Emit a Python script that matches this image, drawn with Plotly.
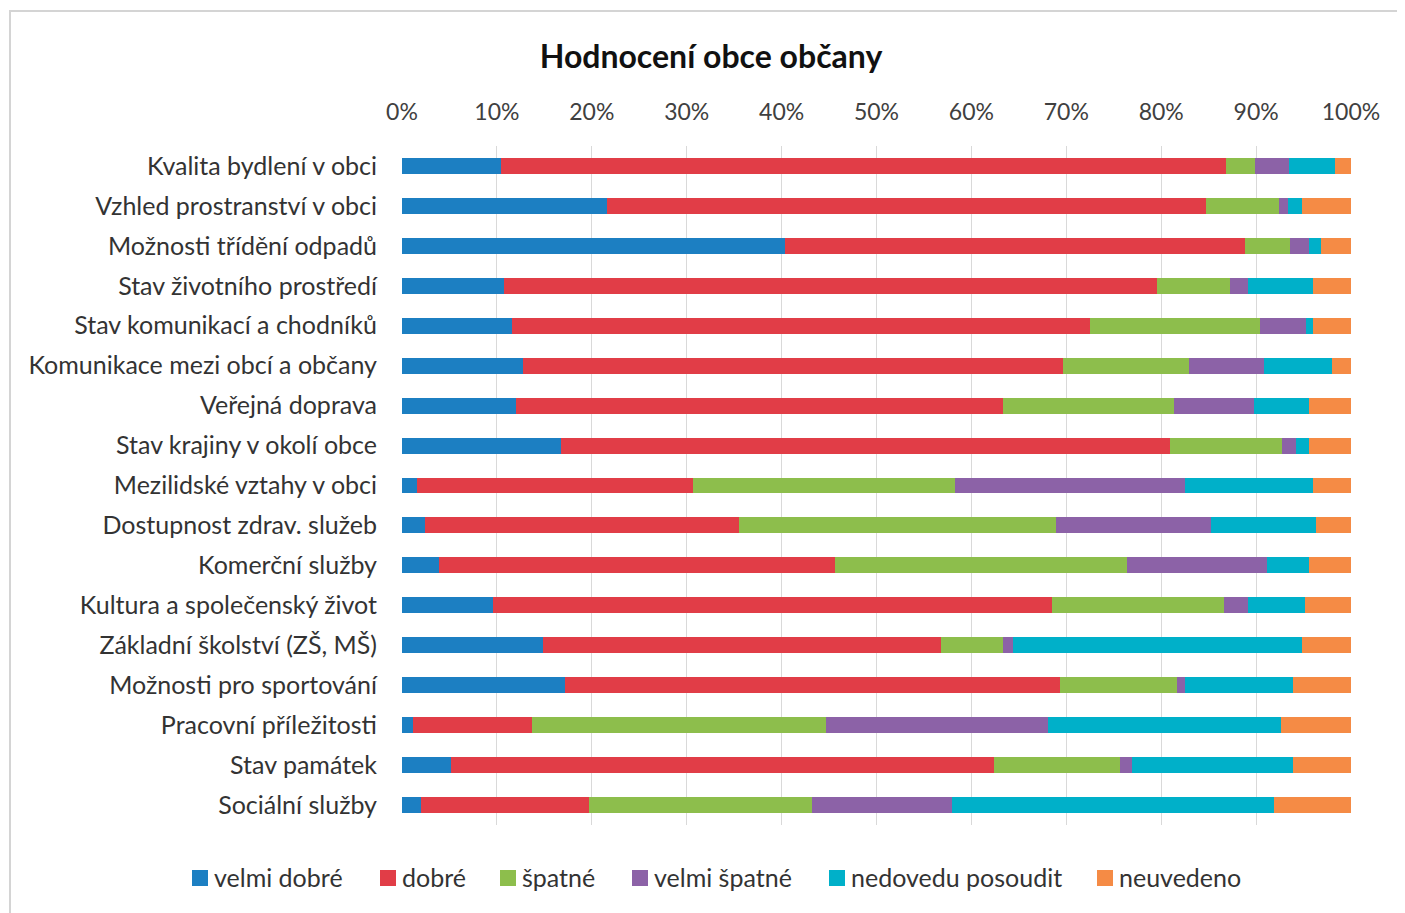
import plotly.graph_objects as go

categories = [
    "Kvalita bydlení v obci",
    "Vzhled prostranství v obci",
    "Možnosti třídění odpadů",
    "Stav životního prostředí",
    "Stav komunikací a chodníků",
    "Komunikace mezi obcí a občany",
    "Veřejná doprava",
    "Stav krajiny v okolí obce",
    "Mezilidské vztahy v obci",
    "Dostupnost zdrav. služeb",
    "Komerční služby",
    "Kultura a společenský život",
    "Základní školství (ZŠ, MŠ)",
    "Možnosti pro sportování",
    "Pracovní příležitosti",
    "Stav památek",
    "Sociální služby",
]

velmi_dobre = [10.4, 21.6, 40.4, 10.8, 11.6, 12.8, 12.0, 16.8, 1.6, 2.4, 3.9, 9.6, 14.9, 17.2, 1.2, 5.2, 2.0]
dobre = [76.4, 63.1, 48.4, 68.8, 60.9, 56.8, 51.3, 64.1, 29.1, 33.1, 41.7, 58.9, 41.9, 52.1, 12.5, 57.2, 17.7]
spatne = [3.1, 7.7, 4.8, 7.7, 17.9, 13.3, 18.1, 11.8, 27.6, 33.4, 30.8, 18.1, 6.5, 12.4, 31.0, 13.3, 23.5]
velmi_spatne = [3.6, 1.0, 2.0, 1.8, 4.9, 7.9, 8.4, 1.5, 24.2, 16.3, 14.7, 2.5, 1.1, 0.8, 23.4, 1.2, 14.8]
nedovedu = [4.8, 1.4, 1.2, 6.9, 0.7, 7.2, 5.8, 1.4, 13.5, 11.1, 4.5, 6.1, 30.4, 11.4, 24.5, 17.0, 33.9]
neuvedeno = [1.7, 5.2, 3.2, 4.0, 4.0, 2.0, 4.4, 4.4, 4.0, 3.7, 4.4, 4.8, 5.2, 6.1, 7.4, 6.1, 8.1]

series_names = ["velmi dobré", "dobré", "špatné", "velmi špatné", "nedovedu posoudit", "neuvedeno"]
series_values = [velmi_dobre, dobre, spatne, velmi_spatne, nedovedu, neuvedeno]
colors = ["#1C7FC2", "#E13D47", "#8DBE4C", "#8C62A7", "#00B0C9", "#F58B45"]

x_ticks = [0, 10, 20, 30, 40, 50, 60, 70, 80, 90, 100]

# page has an 8px body margin; figure is sized/positioned to compensate
OFF = 8
W, H = 1405 - OFF, 913 - OFF
ML, MR, MT, MB = 402 - OFF, 54, 146 - OFF, 88

fig = go.Figure()
for name, vals, col in zip(series_names, series_values, colors):
    fig.add_trace(go.Bar(
        y=categories, x=vals, name=name, orientation="h",
        marker=dict(color=col, line=dict(width=0)),
        width=0.4, showlegend=False,
    ))

font_family = "Lato, Open Sans, sans-serif"
pw = W - ML - MR
ph = H - MT - MB


def px_x(p):
    return (p - OFF - ML) / pw


def px_y(p):
    return 1 - (p - OFF - MT) / ph


# manual legend (squares + text), positioned in page pixels
legend_square_x = [192, 380, 500, 632, 829, 1097]
legend_y = 878
shapes = [dict(
    type="rect", xref="paper", yref="paper", layer="below",
    x0=px_x(10), x1=px_x(1430), y0=px_y(940), y1=px_y(11),
    fillcolor="white", line=dict(color="#d4d4d4", width=2),
)]
annotations = []
for sx, name, col in zip(legend_square_x, series_names, colors):
    shapes.append(dict(
        type="rect", xref="paper", yref="paper",
        x0=px_x(sx), x1=px_x(sx + 16), y0=px_y(legend_y + 8), y1=px_y(legend_y - 8),
        fillcolor=col, line=dict(width=0),
    ))
    annotations.append(dict(
        text=name, xref="paper", yref="paper", showarrow=False,
        x=px_x(sx + 20), xanchor="left", y=px_y(legend_y - 1), yanchor="middle",
        font=dict(family=font_family, size=25, color="#333333"),
    ))

fig.update_layout(
    width=W, height=H,
    barmode="stack",
    margin=dict(l=ML, r=MR, t=MT, b=MB, autoexpand=False),
    paper_bgcolor="white",
    plot_bgcolor="white",
    font=dict(family=font_family, size=25, color="#3a3a3a"),
    showlegend=False,
    title=dict(
        text="<b>Hodnocení obce občany</b>",
        x=(711 - OFF) / W, xref="container", xanchor="center",
        y=1 - (57 - OFF) / H, yref="container", yanchor="middle",
        font=dict(family=font_family, size=32, color="#111111"),
    ),
    xaxis=dict(
        side="top", range=[0, 100], tickvals=x_ticks,
        ticktext=[f"{v}%" for v in x_ticks],
        showgrid=True, gridcolor="#d9d9d9", gridwidth=1,
        zeroline=False, showline=False, ticks="",
        ticklabelstandoff=20,
        tickfont=dict(size=23, color="#404040"),
    ),
    yaxis=dict(
        autorange="reversed", showgrid=False, zeroline=False, showline=False,
        ticks="", ticklabelstandoff=24,
        tickfont=dict(size=25, color="#333333"),
    ),
    shapes=shapes,
    annotations=annotations,
)

fig.write_html("out.html")
